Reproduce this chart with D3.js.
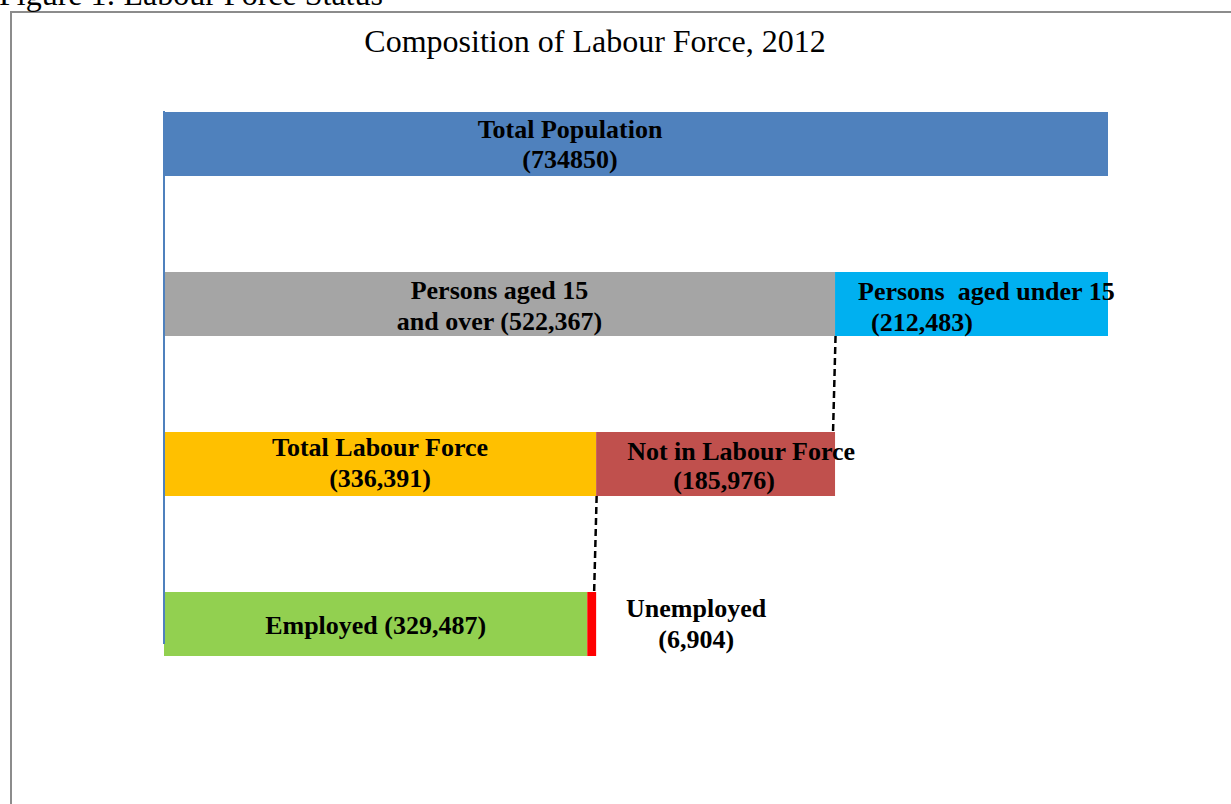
<!DOCTYPE html>
<html>
<head>
<meta charset="utf-8">
<script src="https://cdn.jsdelivr.net/npm/d3@7"></script>
<style>
  body { margin: 0; background: #fff; }
  text { font-family: "Liberation Serif", "Times New Roman", serif; white-space: pre; }
</style>
</head>
<body>
<div id="my_dataviz"></div>
<script>
// data
var rows = ["total", "age", "labour", "employment"];
var segRow = ["total", "age", "age", "labour", "labour", "employment", "employment"];
var segValues = [734850, 522367, 212483, 336391, 185976, 329487, 6904];
var segLabels = [
  ["Total Population", "(734850)"],
  ["Persons aged 15", "and over (522,367)"],
  ["Persons  aged under 15", "(212,483)"],
  ["Total Labour Force", "(336,391)"],
  ["Not in Labour Force", "(185,976)"],
  ["Employed (329,487)"],
  ["Unemployed", "(6,904)"]
];
var segColors = ["#4f81bd", "#a5a5a5", "#00b0f0", "#ffc000", "#c0504d", "#92d050", "#ff0000"];

// label placement (anchor, x reference, offsets)
var labelLayout = [
  {anchor: "middle", ref: "mid", dx: [-66, -66], dy: [26, 56]},
  {anchor: "middle", ref: "mid", dx: [0, 0], dy: [27, 58]},
  {anchor: "start", ref: "start", dx: [23, 36], dy: [28, 59]},
  {anchor: "middle", ref: "mid", dx: [0, 0], dy: [24, 55]},
  {anchor: "start", ref: "start", dx: [31, 77], dy: [28, 57]},
  {anchor: "middle", ref: "mid", dx: [0], dy: [42]},
  {anchor: "middle", ref: "end", dx: [100, 100], dy: [25, 56]}
];

var width = 1231, height = 804;

var svg = d3.select("#my_dataviz")
  .append("svg")
    .attr("width", width)
    .attr("height", height);

// frame
svg.append("rect")
  .attr("x", 11).attr("y", 12)
  .attr("width", 1240).attr("height", 820)
  .attr("fill", "none")
  .attr("stroke", "#8c8c8c")
  .attr("stroke-width", 2);

// figure caption (partly cut off at top, as in the source page)
svg.append("text")
  .attr("x", -1).attr("y", 5)
  .attr("font-size", 32)
  .text("Figure 1: Labour Force Status");

svg.append("text")
  .attr("x", 595).attr("y", 52)
  .attr("text-anchor", "middle")
  .attr("font-size", 32)
  .text("Composition of Labour Force, 2012");

// scales
var x = d3.scaleLinear()
  .domain([0, segValues[0]])
  .range([164, 1108]);

var y = d3.scaleBand()
  .domain(rows)
  .range([112, 656])
  .paddingInner(0.6)
  .paddingOuter(0);

// stack segments within each row
var offsets = {};
var segs = segValues.map(function(v, i) {
  var r = segRow[i];
  var start = offsets[r] || 0;
  offsets[r] = start + v;
  return {i: i, row: r, x0: start, x1: start + v, color: segColors[i], label: segLabels[i], lay: labelLayout[i]};
});

svg.selectAll("rect.seg")
  .data(segs)
  .enter().append("rect")
    .attr("class", "seg")
    .attr("x", function(d) { return x(d.x0); })
    .attr("y", function(d) { return y(d.row); })
    .attr("width", function(d) { return x(d.x1) - x(d.x0); })
    .attr("height", y.bandwidth())
    .attr("fill", function(d) { return d.color; });

// vertical axis line
svg.append("line")
  .attr("x1", x(0)).attr("x2", x(0))
  .attr("y1", y(rows[0]) - 1).attr("y2", y(rows[3]) + 52)
  .attr("stroke", "#4f81bd")
  .attr("stroke-width", 2);

// dashed connectors between levels
var links = [
  {v: segValues[1], from: "age", to: "labour"},
  {v: segValues[3], from: "labour", to: "employment"}
];
svg.selectAll("line.link")
  .data(links)
  .enter().append("line")
    .attr("class", "link")
    .attr("x1", function(d) { return x(d.v) + 0.5; })
    .attr("x2", function(d) { return x(d.v) - 2; })
    .attr("y1", function(d) { return y(d.from) + y.bandwidth(); })
    .attr("y2", function(d) { return y(d.to); })
    .attr("stroke", "#000")
    .attr("stroke-width", 2.5)
    .attr("stroke-dasharray", "7,4");

// labels
segs.forEach(function(d) {
  var ref = d.lay.ref === "mid" ? (x(d.x0) + x(d.x1)) / 2
          : d.lay.ref === "start" ? x(d.x0) : x(d.x1);
  d.label.forEach(function(line, k) {
    svg.append("text")
      .attr("x", ref + d.lay.dx[k])
      .attr("y", y(d.row) + d.lay.dy[k])
      .attr("text-anchor", d.lay.anchor)
      .attr("font-size", 26)
      .attr("font-weight", "bold")
      .attr("fill", "#000")
      .text(line);
  });
});
</script>
</body>
</html>
